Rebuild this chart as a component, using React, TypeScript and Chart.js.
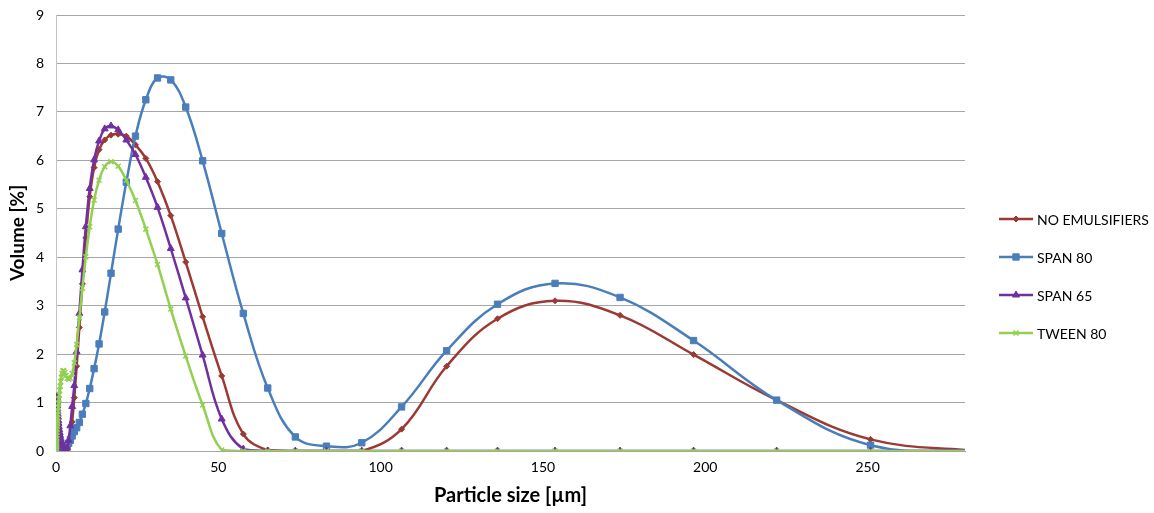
import React, { useEffect, useRef } from "react";
import { Chart, registerables } from "chart.js";
import { drawPoint } from "chart.js/helpers";

Chart.register(...registerables);

// Particle size classes [µm]
const sizes = [
  0.099, 0.112, 0.126, 0.143, 0.161, 0.182, 0.206, 0.233, 0.263, 0.297,
  0.336, 0.380, 0.429, 0.485, 0.548, 0.619, 0.700, 0.791, 0.894, 1.01,
  1.14, 1.29, 1.46, 1.65, 1.87, 2.11, 2.39, 2.70, 3.05, 3.45,
  3.90, 4.41, 4.98, 5.63, 6.36, 7.19, 8.13, 9.19, 10.39, 11.74,
  13.27, 15.00, 16.95, 19.16, 21.66, 24.48, 27.67, 31.28, 35.35, 39.96,
  45.17, 51.05, 57.70, 65.22, 73.72, 83.32, 94.18, 106.45, 120.32, 136.00,
  153.72, 173.75, 196.39, 221.98, 250.90, 283.6,
];

const noEmulsifiers = [
  0, 0, 0, 0, 0, 0, 0, 0, 0, 0,
  0, 0, 0, 0, 0, 0, 0, 0, 0, 0,
  0, 0, 0, 0, 0, 0, 0, 0, 0.01, 0.04,
  0.12, 0.3, 0.6, 1.1, 1.75, 2.55, 3.45, 4.4, 5.25, 5.85,
  6.22, 6.42, 6.52, 6.54, 6.5, 6.32, 6.04, 5.56, 4.86, 3.9,
  2.77, 1.55, 0.35, 0.02, 0, 0, 0, 0.45, 1.75, 2.73,
  3.1, 2.8, 1.99, 1.05, 0.24, 0,
];

const span80 = [
  0.05, 0.15, 0.28, 0.4, 0.48, 0.5, 0.47, 0.4, 0.32, 0.25,
  0.18, 0.13, 0.09, 0.06, 0.05, 0.04, 0.04, 0.03, 0.03, 0.03,
  0.03, 0.03, 0.04, 0.04, 0.05, 0.05, 0.06, 0.07, 0.09, 0.12,
  0.16, 0.22, 0.31, 0.4, 0.48, 0.59, 0.76, 0.98, 1.29, 1.7,
  2.21, 2.87, 3.67, 4.58, 5.55, 6.5, 7.25, 7.7, 7.66, 7.1,
  5.99, 4.49, 2.84, 1.3, 0.29, 0.1, 0.17, 0.91, 2.07, 3.03,
  3.46, 3.17, 2.28, 1.05, 0.12, 0,
];

const span65 = [
  0.05, 0.2, 0.45, 0.7, 0.9, 1.02, 1.1, 1.12, 1.1, 1.06,
  1.0, 0.94, 0.88, 0.82, 0.76, 0.7, 0.63, 0.57, 0.5, 0.44,
  0.38, 0.32, 0.26, 0.2, 0.15, 0.1, 0.06, 0.03, 0.02, 0.06,
  0.22, 0.52, 0.92, 1.35, 2.05, 2.84, 3.74, 4.63, 5.42, 6.01,
  6.4, 6.65, 6.71, 6.63, 6.42, 6.12, 5.65, 5.03, 4.18, 3.16,
  1.98, 0.66, 0.04, 0, 0, 0, 0, 0, 0, 0,
  0, 0, 0, 0, 0, 0,
];

const tween80 = [
  0, 0.02, 0.05, 0.1, 0.15, 0.2, 0.26, 0.32, 0.38, 0.44,
  0.5, 0.56, 0.62, 0.68, 0.75, 0.82, 0.9, 0.98, 1.07, 1.16,
  1.25, 1.34, 1.43, 1.52, 1.6, 1.65, 1.66, 1.62, 1.56, 1.5,
  1.48, 1.5, 1.6, 1.82, 2.2, 2.75, 3.36, 4.01, 4.63, 5.18,
  5.59, 5.87, 5.97, 5.88, 5.59, 5.17, 4.58, 3.85, 2.93, 1.96,
  0.95, 0.02, 0, 0, 0, 0, 0, 0, 0, 0,
  0, 0, 0, 0, 0, 0,
];

const seriesNames = ["NO EMULSIFIERS", "SPAN 80", "SPAN 65", "TWEEN 80"];
const seriesValues = [noEmulsifiers, span80, span65, tween80];
const xTickValues = [0, 50, 100, 150, 200, 250];
const xMin = 0;
const xMax = 280;
const yMin = 0;
const yMax = 9;
const xTitle = "Particle size [µm]";
const yTitle = "Volume [%]";

const FONT = "Lato, 'Open Sans', sans-serif";

const seriesStyles = [
  { color: "#9B3A35", pointStyle: "rectRot", radius: 3, borderWidth: 1, order: 3 },
  { color: "#4A7EBB", pointStyle: "rect", radius: 4.5, borderWidth: 1, order: 2 },
  { color: "#7030A0", pointStyle: "triangle", radius: 4, borderWidth: 1, order: 1 },
  { color: "#92D050", pointStyle: "crossRot", radius: 3.5, borderWidth: 1.5, order: 0 },
];

export default function App() {
  const canvasRef = useRef<HTMLCanvasElement | null>(null);

  useEffect(() => {
    document.body.style.margin = "0";
    const canvas = canvasRef.current;
    if (!canvas) return;

    const datasets = seriesNames.map((name, si) => {
      const st = seriesStyles[si];
      return {
        label: name,
        data: sizes.map((x, i) => ({ x, y: seriesValues[si][i] })),
        showLine: true,
        borderColor: st.color,
        backgroundColor: st.color,
        borderWidth: 2.5,
        tension: 0.4,
        pointStyle: st.pointStyle,
        pointRadius: st.radius,
        pointBackgroundColor: st.color,
        pointBorderColor: st.color,
        pointBorderWidth: st.borderWidth,
        order: st.order,
      };
    });

    const sideLegend = {
      id: "sideLegend",
      afterDraw(chart: any) {
        const ctx = chart.ctx;
        const area = chart.chartArea;
        const x0 = area.right + 34;
        const lineLen = 34;
        const rowH = 38;
        const yStart = 219;
        ctx.save();
        ctx.font = `14px ${FONT}`;
        ctx.textBaseline = "middle";
        ctx.textAlign = "left";
        seriesNames.forEach((name, i) => {
          const st = seriesStyles[i];
          const y = yStart + i * rowH;
          ctx.strokeStyle = st.color;
          ctx.lineWidth = 2.5;
          ctx.beginPath();
          ctx.moveTo(x0, y);
          ctx.lineTo(x0 + lineLen, y);
          ctx.stroke();
          ctx.fillStyle = st.color;
          ctx.lineWidth = st.borderWidth;
          drawPoint(
            ctx,
            { pointStyle: st.pointStyle as any, radius: st.radius, rotation: 0, borderWidth: st.borderWidth },
            x0 + lineLen / 2,
            y
          );
          ctx.fillStyle = "#000";
          ctx.fillText(name, x0 + lineLen + 4, y + 1);
        });
        ctx.restore();
      },
    };

    const chart = new Chart(canvas, {
      type: "scatter",
      data: { datasets: datasets as any },
      plugins: [sideLegend],
      options: {
        responsive: false,
        animation: false,
        layout: { padding: { left: 0, right: 189, top: 15, bottom: 0 } },
        plugins: {
          legend: { display: false },
          tooltip: { enabled: false },
        },
        scales: {
          x: {
            type: "linear",
            min: xMin,
            max: xMax,
            afterBuildTicks: (scale: any) => {
              scale.ticks = xTickValues.map((v) => ({ value: v }));
            },
            afterFit: (scale: any) => {
              scale.height = 62;
              scale.paddingLeft = 0;
              scale.paddingRight = 0;
            },
            ticks: {
              includeBounds: false,
              padding: 8,
              color: "#000",
              font: { family: FONT, size: 14 },
              maxRotation: 0,
            },
            grid: { display: false, drawTicks: false },
            border: { display: true, color: "#a6a6a6", width: 1 },
            title: {
              display: true,
              text: xTitle,
              color: "#000",
              font: { family: FONT, size: 20, weight: "bold" },
              padding: { top: 4, bottom: 5 },
            },
          },
          y: {
            type: "linear",
            min: yMin,
            max: yMax,
            afterFit: (scale: any) => {
              scale.width = 56;
              scale.paddingTop = 0;
              scale.paddingBottom = 0;
            },
            ticks: {
              stepSize: 1,
              padding: 12,
              color: "#000",
              font: { family: FONT, size: 14 },
            },
            grid: { display: true, drawTicks: false, color: "#a6a6a6", lineWidth: 1 },
            border: { display: true, color: "#c4c4c4", width: 1 },
            title: {
              display: true,
              text: yTitle,
              color: "#000",
              font: { family: FONT, size: 19, weight: "bold" },
              padding: { top: 6, bottom: 4 },
            },
          },
        },
      },
    });

    return () => chart.destroy();
  }, []);

  return (
    <div style={{ width: 1154, height: 513, background: "#fff" }}>
      <canvas ref={canvasRef} width={1154} height={513} style={{ display: "block" }} />
    </div>
  );
}
